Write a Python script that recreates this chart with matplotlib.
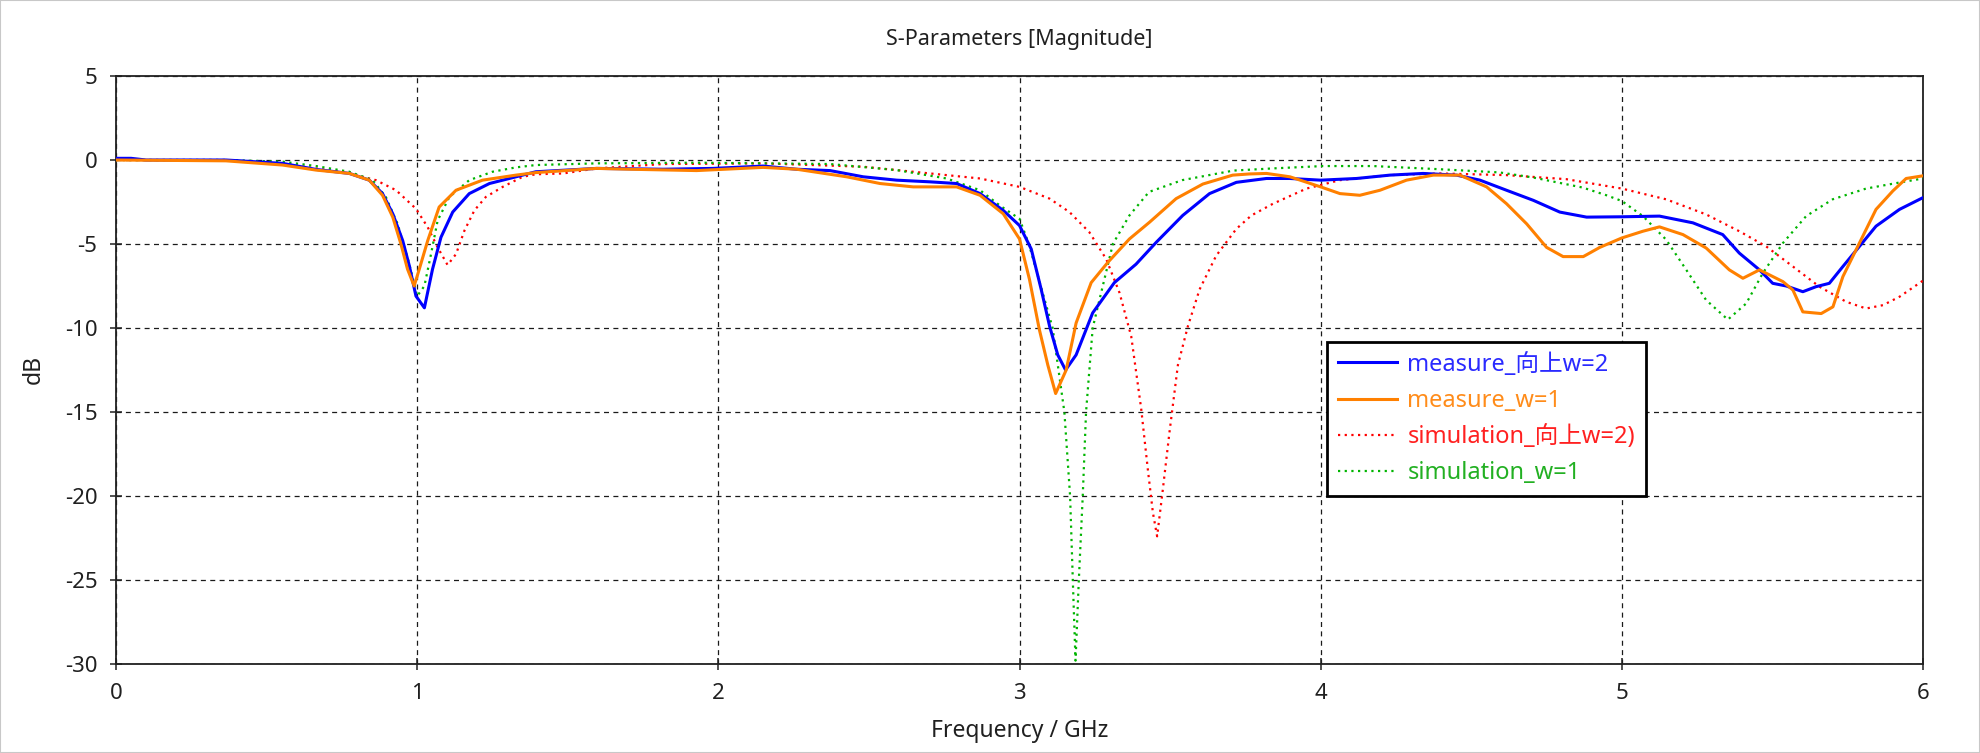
import matplotlib
matplotlib.use("Agg")
import matplotlib.pyplot as plt
from matplotlib.patches import Rectangle

plt.rcParams['font.family'] = ['Noto Sans', 'Noto Sans CJK SC', 'DejaVu Sans']

title = "S-Parameters [Magnitude]"
xlabel = "Frequency / GHz"
ylabel = "dB"
xticks = [0, 1, 2, 3, 4, 5, 6]
yticks = [5, 0, -5, -10, -15, -20, -25, -30]

labels = ["measure_向上w=2", "measure_w=1", "simulation_向上w=2)", "simulation_w=1"]

meas_w2_f = [0, 0.05, 0.1, 0.365, 0.553, 0.664, 0.775, 0.841, 0.885, 0.919, 0.952, 0.974,
             0.996, 1.024, 1.051, 1.079, 1.118, 1.173, 1.24, 1.328, 1.394, 1.596, 1.817,
             1.983, 2.149, 2.26, 2.371, 2.481, 2.592, 2.703, 2.791, 2.869, 2.946, 3.0,
             3.039, 3.072, 3.1, 3.127, 3.153, 3.188, 3.243, 3.315, 3.387, 3.454, 3.542,
             3.631, 3.72, 3.82, 3.898, 4.0, 4.119, 4.23, 4.34, 4.451, 4.529, 4.617, 4.706,
             4.794, 4.883, 5.0, 5.125, 5.236, 5.335, 5.39, 5.457, 5.501, 5.546, 5.601,
             5.645, 5.689, 5.734, 5.789, 5.844, 5.922, 6.0]
meas_w2_db = [0.1, 0.1, 0.0, 0.0, -0.2, -0.56, -0.8, -1.2, -2.0, -3.2, -4.8, -6.3,
              -8.1, -8.8, -6.5, -4.6, -3.1, -2.0, -1.4, -1.0, -0.7, -0.5, -0.55,
              -0.5, -0.36, -0.55, -0.63, -1.0, -1.2, -1.3, -1.4, -2.0, -3.0, -3.9,
              -5.3, -7.7, -9.9, -11.6, -12.5, -11.6, -9.1, -7.3, -6.2, -4.9, -3.3,
              -2.0, -1.33, -1.1, -1.1, -1.2, -1.1, -0.9, -0.8, -0.9, -1.2, -1.8, -2.4,
              -3.1, -3.4, -3.38, -3.34, -3.74, -4.44, -5.54, -6.54, -7.34, -7.5, -7.84,
              -7.54, -7.34, -6.34, -5.14, -3.94, -2.94, -2.24]

meas_w1_f = [0, 0.365, 0.553, 0.664, 0.775, 0.841, 0.885, 0.919, 0.946, 0.968, 0.99,
             1.007, 1.035, 1.073, 1.129, 1.217, 1.328, 1.394, 1.596, 1.706, 1.928, 2.149,
             2.26, 2.426, 2.537, 2.647, 2.791, 2.869, 2.946, 3.0, 3.033, 3.066, 3.094,
             3.12, 3.155, 3.188, 3.238, 3.293, 3.365, 3.432, 3.52, 3.609, 3.708, 3.764,
             3.82, 3.898, 4.0, 4.064, 4.13, 4.197, 4.285, 4.374, 4.462, 4.551, 4.617,
             4.684, 4.75, 4.805, 4.872, 4.927, 5.0, 5.07, 5.125, 5.203, 5.28, 5.357,
             5.402, 5.457, 5.535, 5.568, 5.601, 5.662, 5.701, 5.734, 5.778, 5.844, 5.9,
             5.944, 6.0]
meas_w1_db = [0.0, -0.05, -0.3, -0.6, -0.8, -1.2, -2.1, -3.4, -5.0, -6.5, -7.5,
              -6.5, -4.8, -2.8, -1.8, -1.2, -0.9, -0.75, -0.5, -0.55, -0.63, -0.44,
              -0.55, -1.0, -1.4, -1.6, -1.6, -2.1, -3.2, -4.7, -7.1, -10.1, -12.2,
              -13.9, -12.5, -9.7, -7.3, -6.1, -4.7, -3.7, -2.3, -1.43, -0.9, -0.83,
              -0.8, -1.0, -1.6, -2.0, -2.1, -1.8, -1.2, -0.9, -0.9, -1.6, -2.6,
              -3.8, -5.2, -5.75, -5.75, -5.2, -4.64, -4.24, -3.98, -4.44, -5.24, -6.54,
              -7.04, -6.54, -7.24, -7.74, -9.04, -9.14, -8.74, -6.94, -5.34, -2.94, -1.84,
              -1.1, -0.94]

sim_w2_f = [0, 0.365, 0.553, 0.775, 0.863, 0.93, 0.996, 1.035, 1.068, 1.101, 1.129,
            1.157, 1.19, 1.228, 1.284, 1.35, 1.394, 1.485, 1.596, 1.817, 2.149, 2.481,
            2.703, 2.869, 3.0, 3.1, 3.166, 3.232, 3.288, 3.332, 3.371, 3.404, 3.426,
            3.443, 3.457, 3.476, 3.498, 3.526, 3.559, 3.598, 3.653, 3.72, 3.77, 3.842,
            3.953, 4.064, 4.23, 4.396, 4.617, 4.815, 5.0, 5.147, 5.28, 5.39, 5.479,
            5.568, 5.656, 5.745, 5.811, 5.867, 5.922, 6.0]
sim_w2_db = [0.0, 0.0, -0.2, -0.8, -1.2, -1.8, -2.9, -4.0, -5.2, -6.25, -5.6,
             -4.2, -3.0, -2.2, -1.6, -1.0, -0.85, -0.8, -0.5, -0.24, -0.2, -0.4,
             -0.8, -1.1, -1.6, -2.3, -3.1, -4.3, -5.9, -7.9, -10.5, -14.8, -18.4,
             -21.0, -22.4, -19.6, -16.2, -12.2, -9.9, -7.7, -5.7, -4.1, -3.3, -2.6,
             -1.7, -1.2, -0.9, -0.8, -0.9, -1.14, -1.7, -2.34, -3.24, -4.24, -5.14,
             -6.34, -7.54, -8.44, -8.84, -8.64, -8.14, -7.18]

sim_w1_f = [0, 0.365, 0.553, 0.664, 0.775, 0.852, 0.896, 0.935, 0.974, 1.0, 1.024,
            1.046, 1.068, 1.107, 1.173, 1.25, 1.328, 1.394, 1.596, 1.928, 2.371, 2.592,
            2.758, 2.869, 2.934, 3.0, 3.031, 3.11, 3.149, 3.168, 3.177, 3.186, 3.197,
            3.21, 3.221, 3.243, 3.31, 3.365, 3.43, 3.54, 3.71, 3.842, 4.008, 4.174,
            4.396, 4.594, 4.705, 4.87, 4.949, 5.0, 5.07, 5.147, 5.214, 5.28, 5.352,
            5.413, 5.468, 5.535, 5.612, 5.7, 5.811, 5.922, 6.0]
sim_w1_db = [0.0, 0.0, -0.1, -0.36, -0.7, -1.2, -2.2, -3.8, -6.2, -8.1, -7.5,
             -5.6, -3.6, -2.2, -1.2, -0.7, -0.44, -0.3, -0.2, -0.16, -0.24, -0.6,
             -1.1, -1.8, -2.7, -3.5, -5.0, -10.0, -15.0, -20.0, -25.0, -29.8, -25.0,
             -20.0, -15.0, -10.0, -5.0, -3.3, -1.9, -1.2, -0.63, -0.5, -0.36, -0.36,
             -0.55, -0.74, -1.04, -1.64, -2.1, -2.44, -3.34, -4.74, -6.54, -8.34, -9.5,
             -8.54, -6.74, -4.94, -3.34, -2.34, -1.7, -1.34, -1.1]

line_colors = ["#0000ff", "#ff8000", "#ff0000", "#00b400"]
text_colors = ["#2a2aff", "#ff8c1a", "#ff2020", "#22b022"]

W, H = 1980, 753
fig = plt.figure(figsize=(W / 100, H / 100), dpi=100)
ax = fig.add_axes([116 / W, 1 - 664 / H, (1923 - 116) / W, (664 - 76) / H])

ax.plot(meas_w2_f, meas_w2_db, color=line_colors[0], lw=2.2, label=labels[0], zorder=4)
ax.plot(meas_w1_f, meas_w1_db, color=line_colors[1], lw=2.2, label=labels[1], zorder=5)
ax.plot(sim_w2_f, sim_w2_db, color=line_colors[2], lw=1.6, linestyle=(0, (1, 2.0)),
        label=labels[2], zorder=3)
ax.plot(sim_w1_f, sim_w1_db, color=line_colors[3], lw=1.6, linestyle=(0, (1, 2.0)),
        label=labels[3], zorder=3)

ax.set_xlim(0, 6)
ax.set_ylim(-30, 5)
ax.set_xticks(xticks)
ax.set_yticks(yticks)
ax.set_xticklabels([str(v) for v in xticks])
ax.set_yticklabels([str(v) for v in yticks])
ax.grid(True, color="#1a1a1a", linestyle=(0, (4, 3.5)), lw=0.9)
ax.set_axisbelow(True)
for sp in ax.spines.values():
    sp.set_linewidth(1.3)
    sp.set_color("#202020")
ax.tick_params(direction="inout", length=9, width=1.1, labelsize=16, pad=9,
               colors="#202020", labelcolor="#202020")

fig.text((116 + 1923) / 2 / W, 1 - 39 / H, title, ha="center", va="center",
         fontsize=15.5, color="#202020")
fig.text((116 + 1923) / 2 / W, 1 - 731 / H, xlabel, ha="center", va="center",
         fontsize=16.5, color="#202020")
fig.text(34 / W, 1 - 369 / H, ylabel, ha="center", va="center", rotation=90,
         fontsize=16.5, color="#202020")

leg = ax.legend(loc="upper left", bbox_to_anchor=((1327 - 116) / 1807, (664 - 342) / 588),
                borderaxespad=0, handlelength=2.5, handletextpad=0.45,
                borderpad=0.45, labelspacing=0.52, fancybox=False, framealpha=1,
                prop={"family": ["Noto Sans", "Noto Sans CJK SC"], "size": 17})
leg.get_frame().set_edgecolor("black")
leg.get_frame().set_linewidth(2.0)
for t, c in zip(leg.get_texts(), text_colors):
    t.set_color(c)

fig.patches.append(Rectangle((0, 0), 1, 1, transform=fig.transFigure, fill=False,
                             edgecolor="#c8c8c8", lw=1.5))

fig.savefig("out.png", dpi=100, facecolor="white")
